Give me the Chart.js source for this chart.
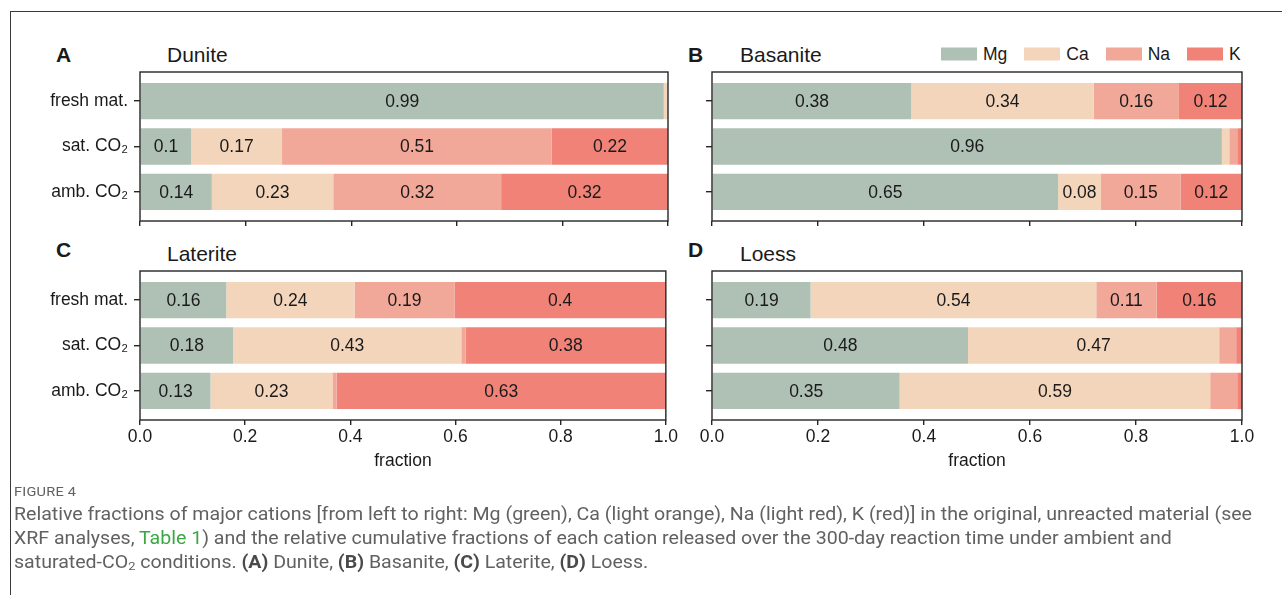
<!DOCTYPE html>
<html>
<head>
<meta charset="utf-8">
<script src="https://cdn.jsdelivr.net/npm/chart.js@4/dist/chart.umd.min.js"></script>
<style>
  html, body { margin: 0; padding: 0; background: #fff; }
  body { width: 1282px; height: 595px; position: relative; overflow: hidden;
         font-family: "Liberation Sans", Arial, Helvetica, sans-serif; color: #1a1a1a; }
  #frame { position: absolute; left: 10px; top: 11px; width: 1300px; height: 620px;
           border-left: 1px solid #3a3a3a; border-top: 1px solid #3a3a3a; }
  canvas { position: absolute; }
  .letter { position: absolute; font-weight: bold; font-size: 21px; line-height: 21px;
            transform: translateY(-50%); }
  .title { position: absolute; font-size: 21px; line-height: 21px; transform: translateY(-50%); }
  #legend { position: absolute; left: 941px; top: 54px; transform: translateY(-50%);
            display: flex; align-items: center; font-size: 17.5px; line-height: 21px; }
  #legend .item { display: flex; align-items: center; margin-right: 17px; }
  #legend .patch { width: 36px; height: 13px; margin-right: 6px; }
  #caption { position: absolute; left: 14px; top: 0; transform-origin: 0 0;
             font-family: Roboto, "Open Sans", sans-serif; color: #616161; white-space: nowrap; }
  #caption .head { position: absolute; left: 0; top: 484px; font-size: 13px; line-height: 16px;
                   text-transform: uppercase; letter-spacing: 0.2px; }
  #caption .line { position: absolute; left: 0; font-size: 17.5px; line-height: 24px; }
  #caption .link { color: #3aa845; }
  #caption b { font-weight: 700; color: #4a4a4a; }
</style>
</head>
<body>
<div id="frame"></div>

<div class="letter" style="left:56px; top:54px;">A</div>
<div class="title" style="left:167px; top:54px;">Dunite</div>
<div class="letter" style="left:688px; top:54px;">B</div>
<div class="title" style="left:740px; top:54px;">Basanite</div>
<div class="letter" style="left:56px; top:249px;">C</div>
<div class="title" style="left:167px; top:253px;">Laterite</div>
<div class="letter" style="left:688px; top:249px;">D</div>
<div class="title" style="left:740px; top:253px;">Loess</div>

<div id="legend"></div>

<canvas id="panelA" width="680" height="160" style="left:0px; top:70px;"></canvas>
<canvas id="panelB" width="602" height="160" style="left:680px; top:70px;"></canvas>
<canvas id="panelC" width="680" height="203" style="left:0px; top:269px;"></canvas>
<canvas id="panelD" width="602" height="203" style="left:680px; top:269px;"></canvas>

<div id="caption">
  <div class="head">Figure 4</div>
  <div class="line" id="cap1" style="top:502px;"><span>Relative fractions of major cations [from left to right: Mg (green), Ca (light orange), Na (light red), K (red)] in the original, unreacted material (see</span></div>
  <div class="line" style="top:526px;"><span>XRF analyses, <span class="link">Table 1</span>) and the relative cumulative fractions of each cation released over the 300-day reaction time under ambient and</span></div>
  <div class="line" style="top:550px;"><span>saturated-CO<sub style="font-size:11.5px; vertical-align:-2px;">2</sub> conditions. <b>(A)</b> Dunite, <b>(B)</b> Basanite, <b>(C)</b> Laterite, <b>(D)</b> Loess.</span></div>
</div>

<script>
// Row labels (top to bottom) and cation series (stacked left to right)
const conditions = ['fresh mat.', 'sat. CO\u2082', 'amb. CO\u2082'];
const cations = ['Mg', 'Ca', 'Na', 'K'];
const cationColors = ['#afc0b4', '#f3d5bb', '#f2a899', '#f08278'];
const xTickValues = [0, 0.2, 0.4, 0.6, 0.8, 1.0];

// Fractions per cation, ordered [fresh mat., sat. CO2, amb. CO2]
const duniteMg   = [0.992, 0.097, 0.136];
const duniteCa   = [0.008, 0.172, 0.230];
const duniteNa   = [0.000, 0.511, 0.318];
const duniteK    = [0.000, 0.220, 0.316];

const basaniteMg = [0.376, 0.962, 0.653];
const basaniteCa = [0.344, 0.014, 0.081];
const basaniteNa = [0.161, 0.015, 0.150];
const basaniteK  = [0.119, 0.009, 0.116];

const lateriteMg = [0.164, 0.177, 0.134];
const lateriteCa = [0.244, 0.434, 0.232];
const lateriteNa = [0.190, 0.008, 0.008];
const lateriteK  = [0.402, 0.381, 0.626];

const loessMg    = [0.186, 0.483, 0.354];
const loessCa    = [0.539, 0.474, 0.586];
const loessNa    = [0.114, 0.032, 0.051];
const loessK     = [0.161, 0.011, 0.009];

const LABEL_MIN = 0.06;   // segments narrower than this stay unlabelled
const FONT = '"Liberation Sans", Arial, Helvetica, sans-serif';
const INK = '#1a1a1a';
const SPINE = '#262626';

function fmt(v) { return String(Math.round(v * 100) / 100); }

// legend built from the series names and colours
const legendEl = document.getElementById('legend');
cations.forEach((name, i) => {
  const item = document.createElement('div');
  item.className = 'item';
  const patch = document.createElement('div');
  patch.className = 'patch';
  patch.style.background = cationColors[i];
  const txt = document.createElement('span');
  txt.textContent = name;
  item.appendChild(patch); item.appendChild(txt);
  legendEl.appendChild(item);
});

// value text centred inside each wide-enough bar segment
const barValueLabels = {
  id: 'barValueLabels',
  afterDatasetsDraw(chart) {
    const ctx = chart.ctx;
    ctx.save();
    ctx.font = '17.5px ' + FONT;
    ctx.fillStyle = INK;
    ctx.textAlign = 'center';
    ctx.textBaseline = 'middle';
    chart.data.datasets.forEach((ds, i) => {
      const meta = chart.getDatasetMeta(i);
      meta.data.forEach((bar, j) => {
        const v = ds.data[j].x;
        if (v < LABEL_MIN) return;
        const p = bar.getProps(['x', 'y', 'base'], true);
        ctx.fillText(fmt(v), (p.x + p.base) / 2, p.y + 1);
      });
    });
    ctx.restore();
  }
};

// closed box around the plotting area
const boxFrame = {
  id: 'boxFrame',
  afterDraw(chart) {
    const a = chart.chartArea;
    const ctx = chart.ctx;
    ctx.save();
    ctx.strokeStyle = SPINE;
    ctx.lineWidth = 1.4;
    ctx.strokeRect(a.left, a.top, a.right - a.left, a.bottom - a.top);
    ctx.restore();
  }
};

function makePanel(id, series, opts) {
  const datasets = series.map((vals, k) => ({
    label: cations[k],
    data: vals.map((v, i) => ({ x: v, y: i })),
    backgroundColor: cationColors[k],
    borderWidth: 0,
    barPercentage: 0.8,
    categoryPercentage: 1.0
  }));
  return new Chart(document.getElementById(id), {
    type: 'bar',
    data: { datasets },
    plugins: [barValueLabels, boxFrame],
    options: {
      indexAxis: 'y',
      responsive: false,
      animation: false,
      devicePixelRatio: 1,
      layout: { padding: { top: 2, right: opts.rightPad, left: 0, bottom: 0 } },
      plugins: { legend: { display: false }, tooltip: { enabled: false } },
      scales: {
        x: {
          type: 'linear', stacked: true, min: 0, max: 1, offset: false,
          afterBuildTicks: ax => { ax.ticks = xTickValues.map(v => ({ value: v })); },
          afterFit: s => { s.height = opts.xHeight; },
          border: { display: false },
          grid: { display: true, offset: false, drawOnChartArea: false, drawTicks: true, tickLength: 5,
                  color: SPINE, lineWidth: 1.4 },
          ticks: { display: opts.xLabels, padding: 2, color: INK,
                   font: { family: FONT, size: 17.5 }, maxRotation: 0,
                   callback: v => Number(v).toFixed(1) },
          title: { display: opts.xLabels, text: 'fraction', color: INK, padding: 0,
                   font: { family: FONT, size: 17.5 } }
        },
        y: {
          type: 'linear', stacked: true, reverse: true, min: -0.64, max: 2.64, offset: false,
          afterBuildTicks: ax => { ax.ticks = conditions.map((c, i) => ({ value: i })); },
          afterFit: s => { s.width = opts.yWidth; s.paddingTop = 0; s.paddingBottom = 0; },
          border: { display: false },
          grid: { display: true, offset: false, drawOnChartArea: false, drawTicks: true, tickLength: 6,
                  color: SPINE, lineWidth: 1.4 },
          ticks: { display: opts.yLabels, padding: 6, color: INK,
                   font: { family: FONT, size: 17.5 },
                   callback: v => conditions[v] !== undefined ? conditions[v] : '' }
        }
      }
    }
  });
}

makePanel('panelA', [duniteMg, duniteCa, duniteNa, duniteK],
  { yWidth: 140, rightPad: 12, xHeight: 9, xLabels: false, yLabels: true });
makePanel('panelB', [basaniteMg, basaniteCa, basaniteNa, basaniteK],
  { yWidth: 32, rightPad: 40, xHeight: 9, xLabels: false, yLabels: false });
makePanel('panelC', [lateriteMg, lateriteCa, lateriteNa, lateriteK],
  { yWidth: 140, rightPad: 12, xHeight: 52, xLabels: true, yLabels: true });
makePanel('panelD', [loessMg, loessCa, loessNa, loessK],
  { yWidth: 32, rightPad: 40, xHeight: 52, xLabels: true, yLabels: false });

// caption set in a narrow face: squeeze the block so the first line spans the text column
function fitCaption() {
  const cap = document.getElementById('caption');
  cap.style.transform = 'none';
  const w = document.querySelector('#cap1 > span').getBoundingClientRect().width;
  if (w > 0) cap.style.transform = 'scaleX(' + (1238 / w) + ')';
}
fitCaption();
if (document.fonts && document.fonts.ready) document.fonts.ready.then(fitCaption);
</script>
</body>
</html>
